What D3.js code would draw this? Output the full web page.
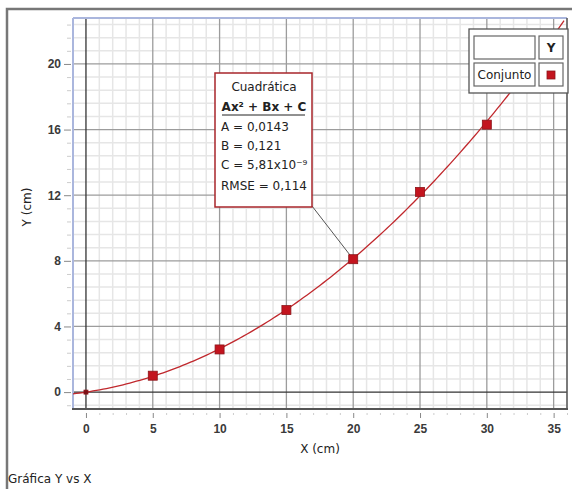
<!DOCTYPE html>
<html>
<head>
<meta charset="utf-8">
<script src="https://cdn.jsdelivr.net/npm/d3@7"></script>
<style>
  body { margin: 0; background: #fff; }
  svg { font-family: "DejaVu Sans", "Open Sans", sans-serif; }
  .tick text { font-size: 12px; fill: #3a3a3a; font-weight: bold; }
</style>
</head>
<body>
<svg id="svg1" width="572" height="489"></svg>
<script>
// data
var xValues = [0, 5, 10, 15, 20, 25, 30];
var yValues = [0, 1.0, 2.6, 5.0, 8.1, 12.2, 16.3];
var xTicks = [0, 5, 10, 15, 20, 25, 30, 35];
var yTicks = [0, 4, 8, 12, 16, 20];
var fitCoef = [0.0143, 0.121, 5.81e-9];   // A, B, C
var fitLines = ['A = 0,0143', 'B = 0,121', 'C = 5,81x10\u207B\u2079', 'RMSE = 0,114'];

var svg = d3.select('svg');

// plot area edges
var pLeft = 73, pRight = 567, pTop = 18, pBottom = 409;

var x = d3.scaleLinear().domain([-0.97, 36]).range([pLeft, pRight]);
var y = d3.scaleLinear().domain([-1.03, 22.8]).range([pBottom, pTop]);

var xMinorTicks = d3.range(-0, 37, 1).filter(function(d){ return d % 5 != 0; });
var yMinorTicks = d3.range(-0.8, 22.8, 0.8).filter(function(d){ return Math.abs(d / 4 - Math.round(d / 4)) > 0.01; });

// outer frame
svg.append('path')
    .attr('d', 'M7,489 L7,9 L572,9')
    .attr('fill', 'none')
    .attr('stroke', '#777')
    .attr('stroke-width', 2.5);

var plot = svg.append('g');

// minor grid
plot.selectAll('.vminor')
    .data(xMinorTicks)
    .enter().append('line')
    .attr('x1', function(d){ return x(d); }).attr('x2', function(d){ return x(d); })
    .attr('y1', pTop).attr('y2', pBottom)
    .attr('stroke', '#e6e6e6').attr('stroke-width', 1.5);

plot.selectAll('.hminor')
    .data(yMinorTicks)
    .enter().append('line')
    .attr('y1', function(d){ return y(d); }).attr('y2', function(d){ return y(d); })
    .attr('x1', pLeft).attr('x2', pRight)
    .attr('stroke', '#e6e6e6').attr('stroke-width', 1.5);

// major grid
plot.selectAll('.vmajor')
    .data(xTicks.filter(function(d){ return d != 0; }))
    .enter().append('line')
    .attr('x1', function(d){ return x(d); }).attr('x2', function(d){ return x(d); })
    .attr('y1', pTop).attr('y2', pBottom)
    .attr('stroke', '#9c9c9c').attr('stroke-width', 1.3);

plot.selectAll('.hmajor')
    .data(yTicks.filter(function(d){ return d != 0; }))
    .enter().append('line')
    .attr('y1', function(d){ return y(d); }).attr('y2', function(d){ return y(d); })
    .attr('x1', pLeft).attr('x2', pRight)
    .attr('stroke', '#9c9c9c').attr('stroke-width', 1.3);

// zero lines
plot.append('line')
    .attr('x1', x(0)).attr('x2', x(0)).attr('y1', pTop).attr('y2', pBottom)
    .attr('stroke', '#333').attr('stroke-width', 1.3);
plot.append('line')
    .attr('y1', y(0)).attr('y2', y(0)).attr('x1', pLeft).attr('x2', pRight)
    .attr('stroke', '#333').attr('stroke-width', 1.3);

// plot borders
plot.append('line').attr('x1', pLeft).attr('x2', pRight).attr('y1', pTop).attr('y2', pTop)
    .attr('stroke', '#aab6dd').attr('stroke-width', 2);
plot.append('line').attr('x1', pLeft).attr('x2', pLeft).attr('y1', pTop).attr('y2', pBottom)
    .attr('stroke', '#aab6dd').attr('stroke-width', 2);
plot.append('line').attr('x1', pLeft - 1).attr('x2', pRight + 1).attr('y1', pBottom).attr('y2', pBottom)
    .attr('stroke', '#555').attr('stroke-width', 2);
plot.append('line').attr('x1', pRight).attr('x2', pRight).attr('y1', pTop).attr('y2', pBottom)
    .attr('stroke', '#555').attr('stroke-width', 1.5);

// axes
var xAxis = svg.append('g')
    .attr('transform', 'translate(0,' + (pBottom + 4) + ')')
    .call(d3.axisBottom(x).tickValues(xTicks).tickSize(5).tickPadding(6));
xAxis.select('.domain').remove();
xAxis.selectAll('.tick line').attr('stroke', '#888');

var xMinor = svg.append('g')
    .attr('transform', 'translate(0,' + (pBottom + 4) + ')')
    .call(d3.axisBottom(x).tickValues(xMinorTicks).tickSize(2).tickFormat(''));
xMinor.select('.domain').remove();
xMinor.selectAll('.tick line').attr('stroke', '#ccc');

var yAxis = svg.append('g')
    .attr('transform', 'translate(' + (pLeft - 2) + ',0)')
    .call(d3.axisLeft(y).tickValues(yTicks).tickSize(7).tickPadding(3));
yAxis.select('.domain').remove();
yAxis.selectAll('.tick line').attr('stroke', '#888');

var yMinor = svg.append('g')
    .attr('transform', 'translate(' + (pLeft - 2) + ',0)')
    .call(d3.axisLeft(y).tickValues(yMinorTicks).tickSize(4).tickFormat(''));
yMinor.select('.domain').remove();
yMinor.selectAll('.tick line').attr('stroke', '#ccc');

// axis titles
svg.append('text')
    .attr('x', 320).attr('y', 453)
    .attr('text-anchor', 'middle')
    .attr('font-size', 12).attr('fill', '#222')
    .text('X (cm)');

svg.append('text')
    .attr('transform', 'translate(31,207) rotate(-90)')
    .attr('text-anchor', 'middle')
    .attr('font-size', 12).attr('fill', '#222')
    .text('Y (cm)');

svg.append('text')
    .attr('x', 8).attr('y', 483)
    .attr('font-size', 12).attr('fill', '#222')
    .text('Gráfica Y vs X');

// fit curve
svg.append('clipPath').attr('id', 'plotclip')
    .append('rect').attr('x', pLeft).attr('y', pTop).attr('width', pRight - pLeft).attr('height', pBottom - pTop);

var curveX = d3.range(-0.97, 36, 0.25);
var fitLine = d3.line()
    .x(function(d){ return x(d); })
    .y(function(d){ return y(fitCoef[0] * d * d + fitCoef[1] * d + fitCoef[2]); });

svg.append('path')
    .datum(curveX)
    .attr('clip-path', 'url(#plotclip)')
    .attr('d', fitLine)
    .attr('fill', 'none')
    .attr('stroke', '#c0282d')
    .attr('stroke-width', 1.3);

// connector from label box to point at x=20
svg.append('line')
    .attr('x1', 312).attr('y1', 206)
    .attr('x2', x(xValues[4])).attr('y2', y(yValues[4]))
    .attr('stroke', '#555').attr('stroke-width', 1);

// points
svg.selectAll('.pt')
    .data(xValues.map(function(d, i){ return [d, yValues[i]]; }))
    .enter().append('rect')
    .attr('x', function(d){ return x(d[0]) - (d[0] == 0 ? 2 : 4.5); })
    .attr('y', function(d){ return y(d[1]) - (d[0] == 0 ? 2 : 4.5); })
    .attr('width', function(d){ return d[0] == 0 ? 4 : 9; })
    .attr('height', function(d){ return d[0] == 0 ? 4 : 9; })
    .attr('fill', function(d){ return d[0] == 0 ? '#7a1015' : '#c3141e'; })
    .attr('stroke', '#8c1419').attr('stroke-width', 0.8);

// fit label box
var box = svg.append('g');
box.append('rect')
    .attr('x', 215).attr('y', 73).attr('width', 97).attr('height', 134)
    .attr('fill', '#fff').attr('stroke', '#a8262b').attr('stroke-width', 1.5);
box.append('text')
    .attr('x', 264).attr('y', 91).attr('text-anchor', 'middle')
    .attr('font-size', 12).attr('fill', '#222')
    .text('Cuadrática');
box.append('text')
    .attr('x', 264).attr('y', 111).attr('text-anchor', 'middle')
    .attr('font-size', 12).attr('font-weight', 'bold').attr('fill', '#222')
    .text('Ax² + Bx + C');
box.append('line')
    .attr('x1', 222).attr('x2', 305).attr('y1', 115).attr('y2', 115)
    .attr('stroke', '#222').attr('stroke-width', 1);
box.selectAll('.fitline')
    .data(fitLines)
    .enter().append('text')
    .attr('x', 221)
    .attr('y', function(d, i){ return [131, 150, 169, 190][i]; })
    .attr('font-size', 12).attr('fill', '#222')
    .text(function(d){ return d; });

// legend
var legend = svg.append('g');
legend.append('rect')
    .attr('x', 469).attr('y', 29).attr('width', 99).attr('height', 64)
    .attr('fill', '#fff').attr('stroke', '#555').attr('stroke-width', 1.3);
legend.append('rect').attr('x', 474).attr('y', 36).attr('width', 61).attr('height', 23)
    .attr('fill', '#fff').attr('stroke', '#666').attr('stroke-width', 1.2);
legend.append('rect').attr('x', 539).attr('y', 36).attr('width', 24).attr('height', 23)
    .attr('fill', '#fff').attr('stroke', '#666').attr('stroke-width', 1.2);
legend.append('rect').attr('x', 474).attr('y', 63).attr('width', 61).attr('height', 23)
    .attr('fill', '#fff').attr('stroke', '#666').attr('stroke-width', 1.2);
legend.append('rect').attr('x', 539).attr('y', 63).attr('width', 24).attr('height', 23)
    .attr('fill', '#fff').attr('stroke', '#666').attr('stroke-width', 1.2);
legend.append('text')
    .attr('x', 551).attr('y', 52).attr('text-anchor', 'middle')
    .attr('font-size', 12).attr('font-weight', 'bold').attr('fill', '#222')
    .text('Y');
legend.append('text')
    .attr('x', 504.5).attr('y', 79).attr('text-anchor', 'middle')
    .attr('font-size', 12).attr('fill', '#222')
    .text('Conjunto');
legend.append('rect')
    .attr('x', 547).attr('y', 71).attr('width', 8).attr('height', 8)
    .attr('fill', '#c3141e').attr('stroke', '#8c1419').attr('stroke-width', 0.8);
</script>
</body>
</html>
